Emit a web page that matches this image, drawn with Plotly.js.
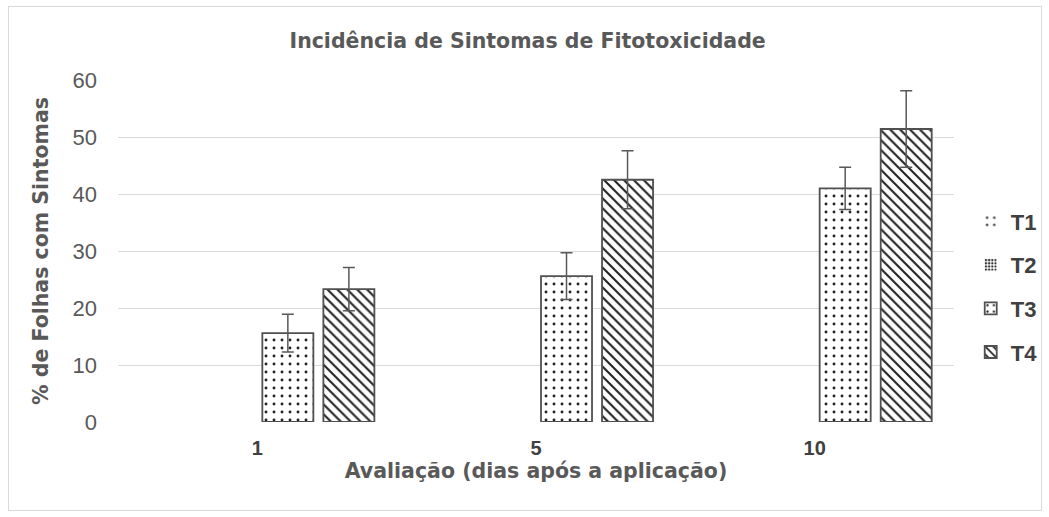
<!DOCTYPE html>
<html><head><meta charset="utf-8">
<script src="https://cdn.plot.ly/plotly-3.0.1.min.js"></script>
<style>
body{margin:0;padding:0;background:#fff;}
#wrap{position:relative;width:1049px;height:517px;}
#chart{width:1049px;height:517px;}
#frame{position:absolute;left:8px;top:6px;width:1032px;height:503px;border:1px solid #d9d9d9;pointer-events:none;}
</style></head>
<body><div id="wrap"><div id="chart"></div><div id="frame"></div></div>
<script>
const categories = ['1', '5', '10'];
const seriesNames = ['T1', 'T2', 'T3', 'T4'];
const t1 = [0, 0, 0];
const t2 = [0, 0, 0];
const t3 = [15.6, 25.6, 41.0];
const t4 = [23.3, 42.5, 51.4];
const t1Err = [0, 0, 0];
const t2Err = [0, 0, 0];
const t3Err = [3.3, 4.1, 3.7];
const t4Err = [3.8, 5.1, 6.7];

const values = [t1, t2, t3, t4];
const errs = [t1Err, t2Err, t3Err, t4Err];
const patterns = [
  {shape: '.', size: 9, solidity: 0.12, fgcolor: '#555555'},
  {shape: '.', size: 4, solidity: 0.45, fgcolor: '#333333'},
  {shape: '.', size: 8, solidity: 0.1, fgcolor: '#222222'},
  {shape: '\\', size: 7, solidity: 0.3, fgcolor: '#222222'}
];

const titleFont = 'DejaVu Sans, Liberation Sans, Arial, sans-serif';

const traces = seriesNames.map((n, i) => ({
  type: 'bar',
  name: n,
  x: categories,
  y: values[i],
  legendgroup: n,
  marker: {
    color: '#ffffff',
    line: {color: '#505050', width: values[i].map(v => v === 0 ? 0 : 1.8)},
    pattern: Object.assign({bgcolor: '#ffffff', fillmode: 'replace'}, patterns[i])
  },
  error_y: {
    type: 'data', array: errs[i], visible: errs[i].some(e => e > 0),
    color: '#595959', thickness: 1.5, width: 6
  },
  hoverinfo: 'x+y'
}));

const layout = {
  width: 1049, height: 517,
  margin: {l: 118, r: 95, t: 80, b: 95, autoexpand: false},
  paper_bgcolor: '#ffffff', plot_bgcolor: '#ffffff',
  font: {family: 'Liberation Sans, Arial, sans-serif', color: '#595959'},
  title: {
    text: '<b>Incidência de Sintomas de Fitotoxicidade</b>',
    font: {size: 20.5, color: '#595959', family: titleFont},
    x: 0.503, xref: 'container', xanchor: 'center', y: 0.922, yanchor: 'middle'
  },
  barmode: 'group', bargap: 0.124, bargroupgap: 0.164,
  xaxis: {
    type: 'category', automargin: false,
    tickfont: {size: 20, color: '#404040', weight: 'bold'},
    showgrid: false, showline: false, zeroline: false,
    ticks: '', ticklabelstandoff: 12,
    title: {text: '<b>Avaliação (dias após a aplicação)</b>', font: {size: 20.5, color: '#595959', family: titleFont}, standoff: 2}
  },
  yaxis: {
    range: [0, 60], dtick: 10, tick0: 0, automargin: false,
    gridcolor: '#d9d9d9', gridwidth: 1,
    zeroline: false, showline: false,
    tickfont: {size: 22, color: '#595959', family: 'Liberation Sans Narrow, Arial Narrow, Liberation Sans, sans-serif'},
    ticks: '', ticklabelstandoff: 20,
    title: {text: '<b>% de Folhas com Sintomas</b>', font: {size: 20.5, color: '#595959', family: titleFont}, standoff: 18}
  },
  legend: {
    x: 1.02, xanchor: 'left', y: 0.395, yanchor: 'middle',
    font: {size: 22, color: '#404040', weight: 'bold'},
    traceorder: 'grouped', tracegroupgap: 12,
    itemwidth: 30, bgcolor: 'rgba(0,0,0,0)'
  },
  showlegend: true
};

Plotly.newPlot('chart', traces, layout, {displayModeBar: false, staticPlot: true});
</script></body></html>
